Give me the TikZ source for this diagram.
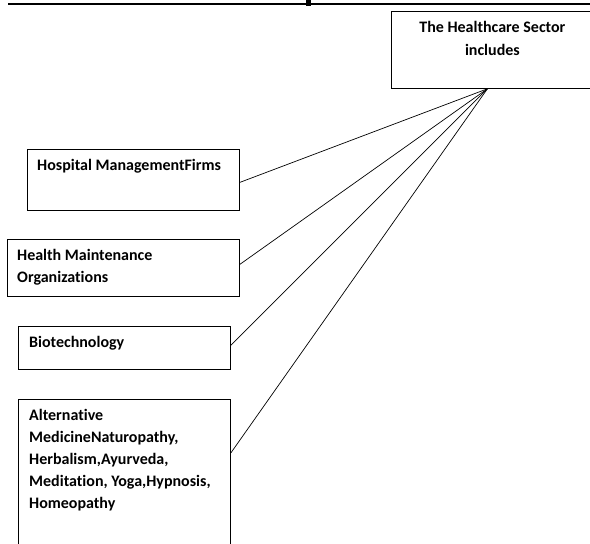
\documentclass[tikz,border=0pt]{standalone}
\usepackage{fontspec}
\setmainfont{Carlito}[Ligatures=NoCommon]
\usetikzlibrary{positioning}

\begin{document}
\begin{tikzpicture}[x=1pt, y=-1pt,
	box/.style={draw, line width=0.8pt, rectangle, inner sep=0pt, anchor=north west},
	lbl/.style={font=\fontsize{16}{22}\selectfont\bfseries, inner sep=0pt, align=left, anchor=base west},
	link/.style={line width=0.7pt}]
		\useasboundingbox (0,0) rectangle (590,544);
		% rule of the cut-off heading
		\draw[line width=1.5pt] (8,4) -- (590,4);
		\fill (306,0) rectangle (311,6);
		
		\node[box, minimum width=204pt, minimum height=77pt] (sector) at (391,11) {};
		\node[lbl, align=center, anchor=base, font=\fontsize{16}{23}\selectfont\bfseries] (sectorc) at ([shift={(-1,44)}]sector.north) {The Healthcare Sector\\includes};
		
		\node[box, minimum width=212pt, minimum height=61pt] (hosp) at (27,149) {};
		\node[lbl] (hospc) at ([shift={(10,21)}]hosp.north west) {Hospital ManagementFirms};
		
		\node[box, minimum width=232pt, minimum height=57pt] (hmo) at (7,239) {};
		\node[lbl] (hmoc) at ([shift={(10,43.5)}]hmo.north west) {Health Maintenance\\Organizations};
		
		\node[box, minimum width=212pt, minimum height=43pt] (bio) at (18,326) {};
		\node[lbl] (bioc) at ([shift={(11,21)}]bio.north west) {Biotechnology};
		
		\node[box, minimum width=212pt, minimum height=160pt] (alt) at (18,399) {};
		\node[lbl] (altc) at ([shift={(11,109)}]alt.north west) {Alternative\\MedicineNaturopathy,\\Herbalism,Ayurveda,\\Meditation, Yoga,Hypnosis,\\Homeopathy};
		
		\draw[link] ([xshift=-6pt]sector.south) -- ([shift={(0,2.5)}]hosp.east);
		\draw[link] ([xshift=-6pt]sector.south) -- ([shift={(0,-3.5)}]hmo.east);
		\draw[link] ([xshift=-6pt]sector.south) -- ([shift={(0,-2.5)}]bio.east);
		\draw[link] ([xshift=-6pt]sector.south) -- ([shift={(0,54)}]alt.north east);
		
	\end{tikzpicture}
\end{document}
